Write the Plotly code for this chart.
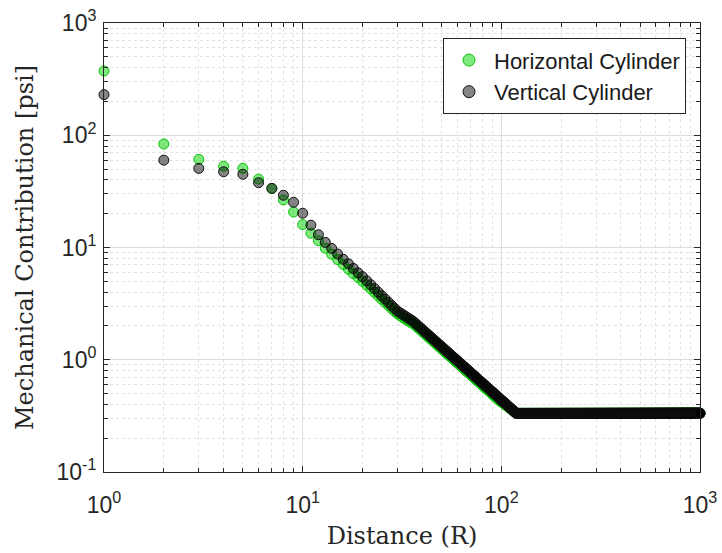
import plotly.graph_objects as go

# Distances (in R), integer steps 1..1000
DISTANCE = list(range(1, 1001))

# Horizontal cylinder: declining part for R = 1..118, then plateau
HORIZ_DECLINE = [
    374, 83.6, 61, 53, 50.7, 40.7, 33.6, 26.5, 20.7, 16.0,
    13.4, 11.5, 9.85, 8.7, 7.8, 7.05, 6.4, 5.85, 5.4, 5.0,
    4.62, 4.28, 3.98, 3.70, 3.45, 3.24, 3.04, 2.86, 2.70, 2.56,
    2.46, 2.37, 2.29, 2.22, 2.15, 2.09, 2.012, 1.929, 1.852, 1.779,
    1.710, 1.647, 1.587, 1.530, 1.477, 1.427, 1.379, 1.334, 1.291, 1.251,
    1.212, 1.176, 1.140, 1.108, 1.076, 1.046, 1.017, 0.989, 0.964, 0.938,
    0.914, 0.891, 0.868, 0.847, 0.826, 0.807, 0.788, 0.770, 0.753, 0.735,
    0.719, 0.703, 0.689, 0.673, 0.659, 0.646, 0.632, 0.620, 0.607, 0.596,
    0.584, 0.573, 0.562, 0.551, 0.541, 0.531, 0.521, 0.512, 0.503, 0.495,
    0.486, 0.478, 0.470, 0.461, 0.454, 0.446, 0.439, 0.433, 0.427, 0.421,
    0.416, 0.411, 0.405, 0.400, 0.395, 0.390, 0.385, 0.380, 0.376, 0.371,
    0.367, 0.362, 0.358, 0.353, 0.349, 0.345, 0.341, 0.337,
]
HORIZ_PLATEAU = 0.333

# Vertical cylinder: declining part for R = 1..118, then plateau
VERT_DECLINE = [
    230, 60, 50.7, 47.3, 44.9, 37.8, 33.6, 29.2, 25.3, 20.2,
    15.8, 13.0, 11.1, 9.8, 8.75, 7.85, 7.15, 6.5, 5.95, 5.5,
    5.05, 4.66, 4.31, 4.00, 3.72, 3.475, 3.25, 3.05, 2.87, 2.71,
    2.61, 2.52, 2.43, 2.35, 2.27, 2.20, 2.107, 2.020, 1.939, 1.863,
    1.791, 1.725, 1.662, 1.602, 1.547, 1.494, 1.444, 1.397, 1.352, 1.310,
    1.269, 1.231, 1.194, 1.160, 1.127, 1.095, 1.065, 1.036, 1.009, 0.982,
    0.957, 0.933, 0.909, 0.887, 0.865, 0.845, 0.825, 0.806, 0.788, 0.770,
    0.753, 0.736, 0.721, 0.705, 0.690, 0.676, 0.662, 0.649, 0.636, 0.624,
    0.611, 0.600, 0.588, 0.577, 0.567, 0.556, 0.546, 0.536, 0.527, 0.518,
    0.509, 0.500, 0.492, 0.483, 0.475, 0.467, 0.460, 0.452, 0.445, 0.438,
    0.431, 0.425, 0.418, 0.412, 0.406, 0.400, 0.394, 0.388, 0.383, 0.377,
    0.372, 0.367, 0.361, 0.356, 0.352, 0.347, 0.342, 0.337,
]
VERT_PLATEAU = 0.333

HORIZ = HORIZ_DECLINE + [HORIZ_PLATEAU] * (len(DISTANCE) - len(HORIZ_DECLINE))
VERT = VERT_DECLINE + [VERT_PLATEAU] * (len(DISTANCE) - len(VERT_DECLINE))

SERIES_NAMES = ["Horizontal Cylinder", "Vertical Cylinder"]

X_TICKS = [1, 10, 100, 1000]
X_TICKTEXT = ["10<sup>0</sup>", "10<sup>1</sup>", "10<sup>2</sup>", "10<sup>3</sup>"]
Y_TICKS = [0.1, 1, 10, 100, 1000]
Y_TICKTEXT = ["10<sup>-1</sup>", "10<sup>0</sup>", "10<sup>1</sup>", "10<sup>2</sup>", "10<sup>3</sup>"]

GREEN_FILL = "rgba(0,212,0,0.5)"
GREEN_EDGE = "rgb(10,195,10)"
GRAY_FILL = "rgba(0,0,0,0.48)"
GRAY_EDGE = "rgb(15,15,15)"

fig = go.Figure()
fig.add_trace(go.Scatter(
    x=DISTANCE, y=HORIZ, mode="markers", name=SERIES_NAMES[0],
    cliponaxis=False, showlegend=False,
    marker=dict(size=10, color=GREEN_FILL, line=dict(color=GREEN_EDGE, width=1)),
))
fig.add_trace(go.Scatter(
    x=DISTANCE, y=VERT, mode="markers", name=SERIES_NAMES[1],
    cliponaxis=False, showlegend=False,
    marker=dict(size=10, color=GRAY_FILL, line=dict(color=GRAY_EDGE, width=1)),
))
# legend entries (larger symbols, as in the reference legend)
fig.add_trace(go.Scatter(
    x=[None], y=[None], mode="markers", name=SERIES_NAMES[0],
    marker=dict(size=12, color=GREEN_FILL, line=dict(color=GREEN_EDGE, width=1)),
))
fig.add_trace(go.Scatter(
    x=[None], y=[None], mode="markers", name=SERIES_NAMES[1],
    marker=dict(size=12, color=GRAY_FILL, line=dict(color=GRAY_EDGE, width=1)),
))

axis_common = dict(
    type="log", automargin=False,
    showline=True, linecolor="#262626", linewidth=1, mirror="ticks",
    ticks="inside", ticklen=6, tickcolor="#262626",
    showgrid=True, gridcolor="#dcdcdc", gridwidth=1,
    zeroline=False,
    tickfont=dict(family="Liberation Sans, Arial, sans-serif", size=23, color="#262626"),
    minor=dict(ticks="inside", ticklen=4, tickcolor="#262626", dtick="D1",
               showgrid=True, gridcolor="#e2e2e2", griddash="dot", gridwidth=1),
)

fig.update_xaxes(**axis_common, range=[0, 3], tickmode="array",
                 tickvals=X_TICKS, ticktext=X_TICKTEXT, ticklabelstandoff=12,
                 title=dict(text="Distance (R)", standoff=10,
                            font=dict(family="DejaVu Serif, serif", size=24, color="#262626")))
fig.update_yaxes(**axis_common, range=[-1, 3], tickmode="array",
                 tickvals=Y_TICKS, ticktext=Y_TICKTEXT, ticklabelstandoff=2,
                 title=dict(text="Mechanical Contribution [psi]", standoff=16,
                            font=dict(family="DejaVu Serif, serif", size=24, color="#262626")))

fig.update_layout(
    width=722, height=553, autosize=False,
    margin=dict(l=104, r=22, t=23, b=81),
    paper_bgcolor="white", plot_bgcolor="white",
    showlegend=True,
    legend=dict(x=0.9765, xanchor="right", y=0.966, yanchor="top",
                bgcolor="white", bordercolor="#262626", borderwidth=1,
                itemwidth=40,
                font=dict(family="Liberation Sans, Arial, sans-serif", size=22, color="#1a1a1a")),
)

fig.write_html("out.html")
